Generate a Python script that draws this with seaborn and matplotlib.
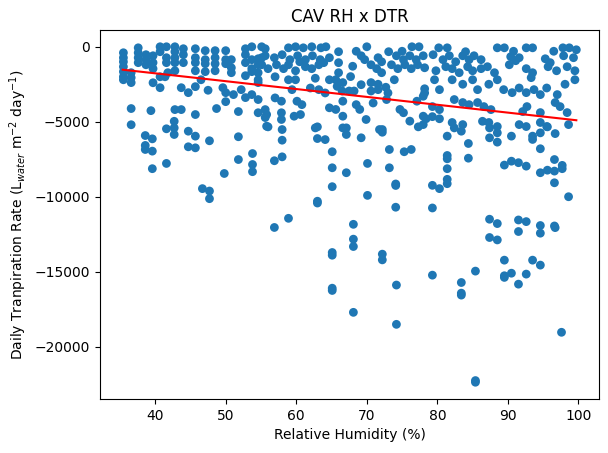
import matplotlib
matplotlib.use("Agg")
import matplotlib.pyplot as plt
import seaborn as sns
import pandas as pd

# Relative humidity (%) and daily transpiration rate
rh_band = [
    35.5, 35.5, 35.5, 35.5, 35.5, 35.5, 35.5,
    36.6, 36.6, 36.6, 36.6, 36.6,
    37.6, 37.6, 37.6, 37.6,
    38.7, 38.7, 38.7,
    39.7, 39.7, 39.7, 39.7,
    40.7, 40.7, 40.7, 40.7, 39.4,
    41.6, 41.6, 41.6, 41.8, 41.4,
    42.8, 42.8, 42.8, 42.8, 42.8,
    44.0, 44.0, 44.0,
    43.7, 44.7, 45.7, 42.8, 43.7, 45.7,
    45.7, 45.7, 45.7, 45.7, 46.5, 47.5,
    47.1, 47.1, 47.1, 47.1,
    48.5, 48.5, 48.5, 48.5,
    50.0, 50.0, 50.0,
    50.8, 50.8, 50.8,
    48.7, 50.0, 49.6, 50.0,
    51.1, 52.2, 52.8, 53.7, 54.6, 51.8,
    52.8, 52.8, 52.8, 52.8,
    53.7, 53.7, 53.7, 53.7,
    54.6, 54.6,
    55.1, 55.1, 55.1,
    55.6, 55.6,
]
dtr_band = [
    -400, -730, -1000, -1330, -1660, -2000, -2200,
    -1730, -2060, -2390, -4120, -5200,
    -70, -400, -730, -1060,
    -530, -860, -1200,
    -600, -1060, -1460, -2400,
    0, -330, -2730, -2000, -4260,
    0, -730, -1060, -1730, -2000,
    0, -330, -730, -1060, -1600,
    -130, -530, -1060,
    -2730, -3060, -2660, -4190, -4190, -4520,
    -130, -730, -1060, -1600, -2200, -2900,
    -260, -860, -1130, -1660,
    -260, -730, -1130, -1600,
    -260, -860, -1130,
    -860, -1400, -1730,
    -4120, -3660, -2730, -3060,
    -3190, -2860, -3390, -3190, -3520, -4320,
    -130, -530, -1060, -1930,
    0, -860, -1460, -1660,
    -1730, -2200,
    0, -730, -1200,
    -4190, -4720,
]

rh_mid = [
    55.6, 58.9, 59.9, 61.0, 62.2, 63.5, 64.2, 66.0, 70.0, 73.1, 76.4, 77.4,
    68.5, 75.0,
    54.6, 55.6, 56.9, 58.0, 59.1, 60.2, 61.3, 62.3, 63.4, 63.9, 64.7, 69.2,
    69.7, 71.6, 72.1, 74.2, 75.2, 76.1, 77.0, 78.0, 60.5,
    54.6, 56.0, 57.2, 58.2, 58.9, 59.9, 61.3, 62.2, 63.2, 66.0, 66.0, 70.6,
    71.4, 72.1, 73.5, 74.4, 75.4, 76.3, 77.2, 78.2, 68.0, 57.0,
    54.6, 58.9, 59.9, 62.7, 64.7, 65.6, 66.6, 67.7, 70.6, 71.6, 72.7, 73.9, 78.2,
    59.4, 62.0, 63.2, 64.1, 65.8, 66.5, 67.5, 68.2, 69.2, 70.6, 71.6, 73.0, 78.2,
    57.0, 57.9, 60.1, 60.8, 64.7, 65.6, 66.6, 68.5, 69.0, 70.9, 72.8, 74.7,
    75.2, 77.1, 78.0,
    54.6, 55.8, 57.9, 57.9, 59.7, 60.6, 62.7, 66.6, 66.6, 69.9, 71.8, 76.1,
    78.0, 78.0,
]
dtr_mid = [
    -130, -70, 0, -70, 0, -70, 0, -330, 0, -330, 0, 0,
    -300, -300,
    -800, -600, -730, -530, -860, -600, -860, -600, -860, -1060, -730, -600,
    -860, -730, -1000, -600, -860, -600, -860, -600, -1000,
    -1200, -1460, -1200, -1460, -1200, -1600, -1330, -1460, -1200, -1060, -1730, -1200,
    -1460, -1730, -1200, -1460, -1200, -1460, -1200, -1400, -1300, -2000,
    -2390, -2200, -2200, -2100, -2200, -2200, -2390, -1990, -2390, -2500, -2700, -2200, -2800,
    -2860, -2750, -2860, -3080, -2640, -2950, -2950, -2950, -2530, -2950, -2860, -3080, -3080,
    -3410, -3630, -3630, -3860, -4070, -4180, -3630, -3860, -4180, -3750, -3520, -4180,
    -4400, -3630, -3300,
    -4400, -4520, -4400, -4850, -4630, -4520, -5410, -4630, -5410, -4850, -5520, -4960,
    -4630, -5190,
]

rh_high = [
    80.2, 81.4, 88.5, 89.5, 92.6, 93.5, 97.8, 98.7, 99.7, 84.0, 90.8, 96.5,
    79.4, 80.8, 81.7, 82.6, 83.6, 84.5, 85.2, 86.2, 90.4, 91.1, 91.6, 95.3,
    96.0, 97.9, 99.3,
    79.8, 81.2, 82.1, 83.1, 84.3, 85.0, 86.2, 87.1, 88.1, 90.2, 92.6, 93.5,
    95.7, 96.9, 98.4, 99.5, 93.3,
    79.6, 80.3, 82.1, 83.6, 85.0, 85.7, 87.3, 88.5, 89.4, 90.6, 91.6, 92.6,
    93.7, 94.6, 95.5, 97.0, 98.1, 99.5,
    79.3, 80.3, 82.4, 83.6, 84.5, 85.7, 86.6, 87.6, 92.1, 92.7, 94.6, 96.7,
    97.4, 98.4,
    78.4, 79.3, 80.3, 82.1, 83.6, 87.3, 88.5, 91.6, 92.6, 94.6, 95.5, 98.6,
]
dtr_high = [
    -70, -70, -70, -70, -70, -70, -70, -70, -200, -330, -300, -300,
    -530, -860, -600, -1000, -600, -860, -600, -860, -660, -930, -730, -800,
    -1060, -600, -730,
    -1600, -1330, -1460, -1730, -1330, -1600, -1460, -1330, -1730, -1200, -1460, -1730,
    -1330, -1600, -1330, -1600, -2060,
    -2200, -2860, -2200, -2500, -2200, -2860, -2500, -2200, -2860, -3060, -2750, -3060,
    -2860, -3190, -2750, -3190, -2500, -2200,
    -3990, -4190, -3520, -3720, -3860, -3720, -3990, -4190, -4320, -3990, -4390, -3720,
    -3990, -4390,
    -4800, -4660, -4800, -5050, -5190, -5050, -5320, -5190, -5320, -5050, -5320, -5190,
]

rh_low = [
    38.6, 39.6, 38.6, 38.6, 39.6, 39.6, 41.6, 41.6, 42.7, 42.7, 42.7, 44.7,
    45.7, 44.7, 45.7, 47.7, 46.7, 47.7, 47.7, 49.8, 51.8, 51.8, 53.8, 53.8,
    53.8, 55.8,
    56.0, 58.0, 58.0, 56.9, 58.0, 63.0, 63.0, 64.1, 67.1, 67.1, 69.2, 72.2,
    72.2, 65.1, 65.1, 67.1, 65.1, 70.1, 73.2, 73.2, 75.3, 76.3, 77.3, 74.1,
    74.1, 70.1, 63.0, 63.0, 74.1, 58.9, 56.9, 68.1,
    82.4, 83.4, 81.4, 84.4, 81.4, 81.4, 84.4, 81.4, 81.4, 81.4, 79.3, 80.3,
    79.3, 86.4, 87.4, 88.5, 87.4, 88.5, 90.5, 93.5, 93.5, 94.6, 95.6, 96.7,
    94.6, 89.5, 90.5, 91.5, 92.6, 96.6, 97.7, 97.7, 94.6, 95.6, 96.6, 96.6,
    98.6, 87.4, 88.5, 91.5, 92.6, 94.6, 96.6,
    65.1, 65.1, 65.1, 65.1, 68.1, 68.1, 72.2, 72.2, 74.2, 68.1, 74.2, 79.3,
    83.4, 83.4, 83.4, 85.4, 85.4, 85.4, 87.4, 88.5, 91.5, 94.6, 96.7, 89.5,
    93.5, 94.6, 89.5, 89.5, 90.5, 92.6, 91.5, 97.6,
]
dtr_low = [
    -5920, -6140, -6580, -6850, -6960, -8130, -7780, -5470, -4970, -5410, -5850, -5630,
    -5960, -6670, -6740, -6270, -9460, -9620, -10130, -8450, -6000, -7520, -7120, -7850,
    -8330, -5300,
    -5340, -5520, -6230, -7600, -7340, -5340, -6120, -6190, -5410, -5850, -6070, -5520,
    -5700, -7000, -8070, -8400, -9330, -7780, -6850, -8070, -7000, -6850, -5340, -9150,
    -9250, -9910, -10300, -10420, -10700, -11440, -12050, -11840,
    -5410, -5630, -5960, -6450, -7250, -7470, -7430, -8130, -8840, -9130, -9240, -9460,
    -10750, -4970, -5410, -5740, -6070, -6360, -5960, -5960, -6180, -5740, -5340, -5790,
    -6800, -7890, -7630, -7730, -7960, -7520, -7910, -8130, -8400, -8230, -8290, -9070,
    -10000, -11500, -11790, -11550, -11660, -11920, -11950,
    -13720, -13900, -16100, -16250, -12830, -13320, -13830, -14210, -15890, -17710, -18510, -15230,
    -15720, -16430, -16560, -14960, -22260, -22370, -12720, -12880, -12320, -12430, -12060, -14230,
    -14230, -14560, -15270, -15380, -15100, -15160, -15830, -19040,
]

# Linear fit line, end points
fit_rh = [35.4, 99.7]
fit_dtr = [-1530, -4900]

rh = rh_band + rh_mid + rh_high + rh_low
dtr = dtr_band + dtr_mid + dtr_high + dtr_low
df = pd.DataFrame({"rh": rh, "dtr": dtr})
fit = pd.DataFrame({"rh": fit_rh, "dtr": fit_dtr})

fig = plt.figure(figsize=(6.08, 4.53), dpi=100)
ax = fig.add_axes([0.1645, 0.1192, 0.8207, 0.8146])
sns.scatterplot(data=df, x="rh", y="dtr", ax=ax, color="#1f77b4", s=40,
                linewidth=0, edgecolor="none", alpha=1)
sns.lineplot(data=fit, x="rh", y="dtr", ax=ax, color="red", linewidth=1.5)
ax.set_title("CAV RH x DTR")
ax.set_xlabel("Relative Humidity (%)")
ax.set_ylabel("Daily Tranpiration Rate (L$_{water}$ m$^{-2}$ day$^{-1}$)")
ax.set_xticks([40, 50, 60, 70, 80, 90, 100])
ax.set_yticks([0, -5000, -10000, -15000, -20000])
fig.savefig("out.png", dpi=100)
